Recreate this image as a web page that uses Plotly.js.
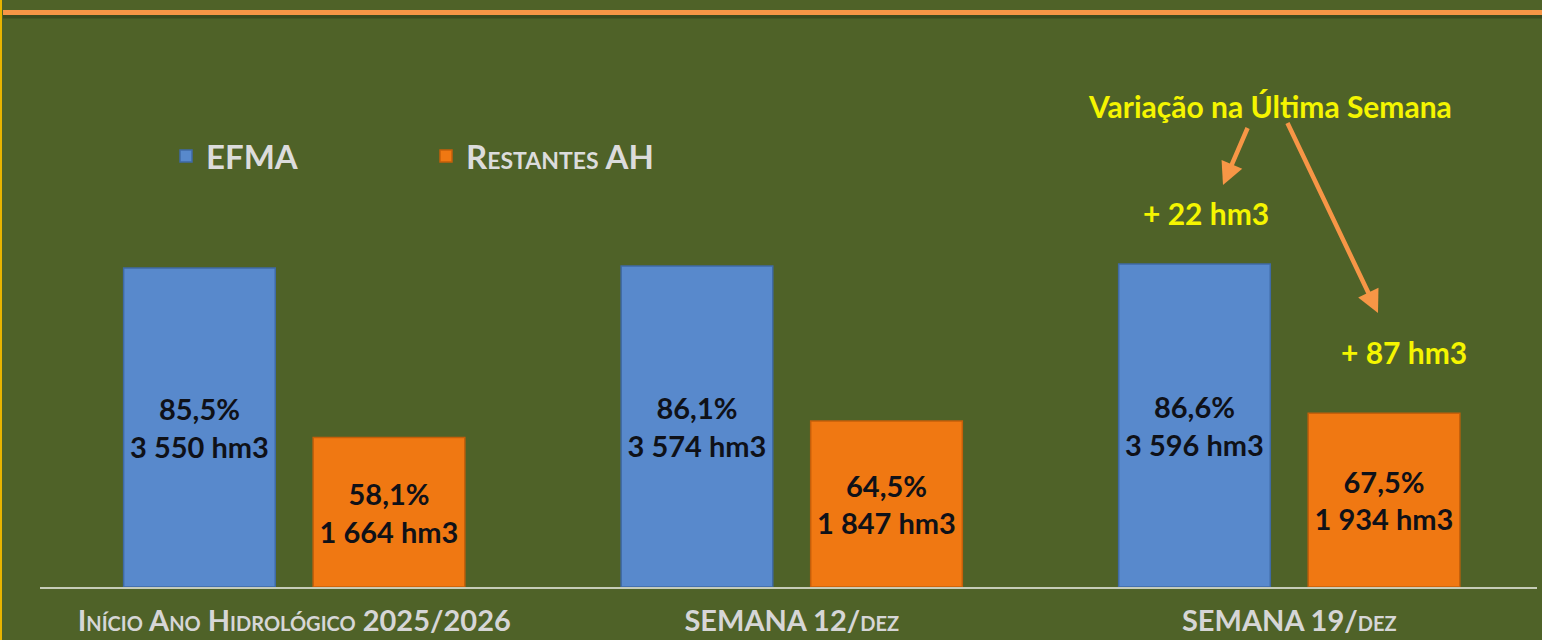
<!DOCTYPE html>
<html>
<head>
<meta charset="utf-8">
<script src="https://cdn.plot.ly/plotly-3.0.1.min.js"></script>
<style>
html,body{margin:0;padding:0;background:#4f6228;}
#chart{width:1542px;height:640px;}
</style>
</head>
<body>
<div id="chart"></div>
<script>
// ---- data ----
const categories = ['Início Ano Hidrológico 2025/2026', 'SEMANA 12/dez', 'SEMANA 19/dez'];
const seriesNames = ['EFMA', 'Restantes AH'];
const efmaHm3 = [3550, 3574, 3596];
const efmaPct = ['85,5%', '86,1%', '86,6%'];
const restHm3 = [1664, 1847, 1934];
const restPct = ['58,1%', '64,5%', '67,5%'];
const variationTitle = 'Variação na Última Semana';
const variationEfma = '+ 22 hm3';
const variationRest = '+ 87 hm3';

// ---- layout geometry ----
const W = 1542, H = 640;
const M = {l: 40, r: 5, t: 48, b: 53};
const PW = W - M.l - M.r, PH = H - M.t - M.b;
const px = x => (x - M.l) / PW;
const py = y => (H - M.b - y) / PH;

function fmt(n) {
  return String(n).replace(/\B(?=(\d{3})+(?!\d))/g, ' ');
}
const FONT = 'Lato, "Open Sans", sans-serif';

const barText = (pcts, vals) => vals.map((v, i) => pcts[i] + '<br>' + fmt(v) + ' hm3');

const traces = [
  {
    type: 'bar', name: seriesNames[0], x: categories, y: efmaHm3,
    text: barText(efmaPct, efmaHm3), texttemplate: '%{text}',
    textposition: 'inside', insidetextanchor: 'middle', textangle: 0,
    constraintext: 'none',
    insidetextfont: {family: FONT, size: 29, color: '#0f1118', weight: 700},
    marker: {color: '#5889cc', line: {color: '#3f6aa5', width: 1.5}},
    hoverinfo: 'none'
  },
  {
    type: 'bar', name: seriesNames[1], x: categories, y: restHm3,
    text: barText(restPct, restHm3), texttemplate: '%{text}',
    textposition: 'inside', insidetextanchor: 'middle', textangle: 0,
    constraintext: 'none',
    insidetextfont: {family: FONT, size: 29, color: '#0f1118', weight: 700},
    marker: {color: '#f07812', line: {color: '#c55f0a', width: 1.5}},
    hoverinfo: 'none'
  }
];

const arrowColor = '#f79646';
const yellow = '#f5f500';

const layout = {
  width: W, height: H,
  margin: M,
  paper_bgcolor: '#4f6228',
  plot_bgcolor: '#4f6228',
  barmode: 'group',
  bargap: 0.238,
  bargroupgap: 0.2,
  showlegend: true,
  legend: {
    orientation: 'h', x: px(166), y: py(156), xanchor: 'left', yanchor: 'middle',
    font: {family: FONT, size: 33, color: '#dcdcdc', weight: 700, variant: 'small-caps'},
    bgcolor: 'rgba(0,0,0,0)', entrywidth: 215, traceorder: 'normal'
  },
  xaxis: {
    type: 'category', range: [-0.511, 2.498], showgrid: false, zeroline: false,
    showline: true, linecolor: '#c6ccb8', linewidth: 2,
    ticks: 'outside', ticklen: 7, tickcolor: 'rgba(0,0,0,0)',
    tickfont: {family: FONT, size: 29, color: '#d6d6d6', weight: 700, variant: 'small-caps'},
    automargin: false, fixedrange: true
  },
  yaxis: {
    range: [0, 6000], visible: false, showgrid: false, zeroline: false,
    fixedrange: true
  },
  shapes: [
    // yellow left frame edge
    {type: 'line', xref: 'paper', yref: 'paper', x0: px(1), x1: px(1), y0: py(0), y1: py(H),
     line: {color: '#e8b400', width: 2}},
    // top orange rule shadow
    {type: 'line', xref: 'paper', yref: 'paper', x0: px(3), x1: px(W), y0: py(16.5), y1: py(16.5),
     line: {color: 'rgba(40,50,20,0.45)', width: 4}},
    // top orange rule
    {type: 'line', xref: 'paper', yref: 'paper', x0: px(3), x1: px(W), y0: py(12.5), y1: py(12.5),
     line: {color: arrowColor, width: 5}}
  ],
  annotations: [
    {text: variationTitle, xref: 'paper', yref: 'paper', x: px(1270), y: py(106),
     xanchor: 'center', yanchor: 'middle', showarrow: false,
     font: {family: FONT, size: 30, color: yellow, weight: 700}},
    {text: variationEfma, xref: 'paper', yref: 'paper', x: px(1206), y: py(213),
     xanchor: 'center', yanchor: 'middle', showarrow: false,
     font: {family: FONT, size: 30, color: yellow, weight: 700}},
    {text: variationRest, xref: 'paper', yref: 'paper', x: px(1404), y: py(352),
     xanchor: 'center', yanchor: 'middle', showarrow: false,
     font: {family: FONT, size: 30, color: yellow, weight: 700}},
    {text: ' ', xref: 'paper', yref: 'paper', x: px(1223), y: py(185), ax: 1248 - 1223, ay: 127 - 185,
     showarrow: true, arrowhead: 2, arrowsize: 1, arrowwidth: 4.5, arrowcolor: arrowColor,
     standoff: 0, startstandoff: 0, font: {size: 1}, borderpad: 0},
    {text: ' ', xref: 'paper', yref: 'paper', x: px(1378), y: py(313), ax: 1287 - 1378, ay: 122 - 313,
     showarrow: true, arrowhead: 2, arrowsize: 1, arrowwidth: 4.5, arrowcolor: arrowColor,
     standoff: 0, startstandoff: 0, font: {size: 1}, borderpad: 0}
  ]
};

Plotly.newPlot('chart', traces, layout, {displayModeBar: false, staticPlot: true});
</script>
</body>
</html>
